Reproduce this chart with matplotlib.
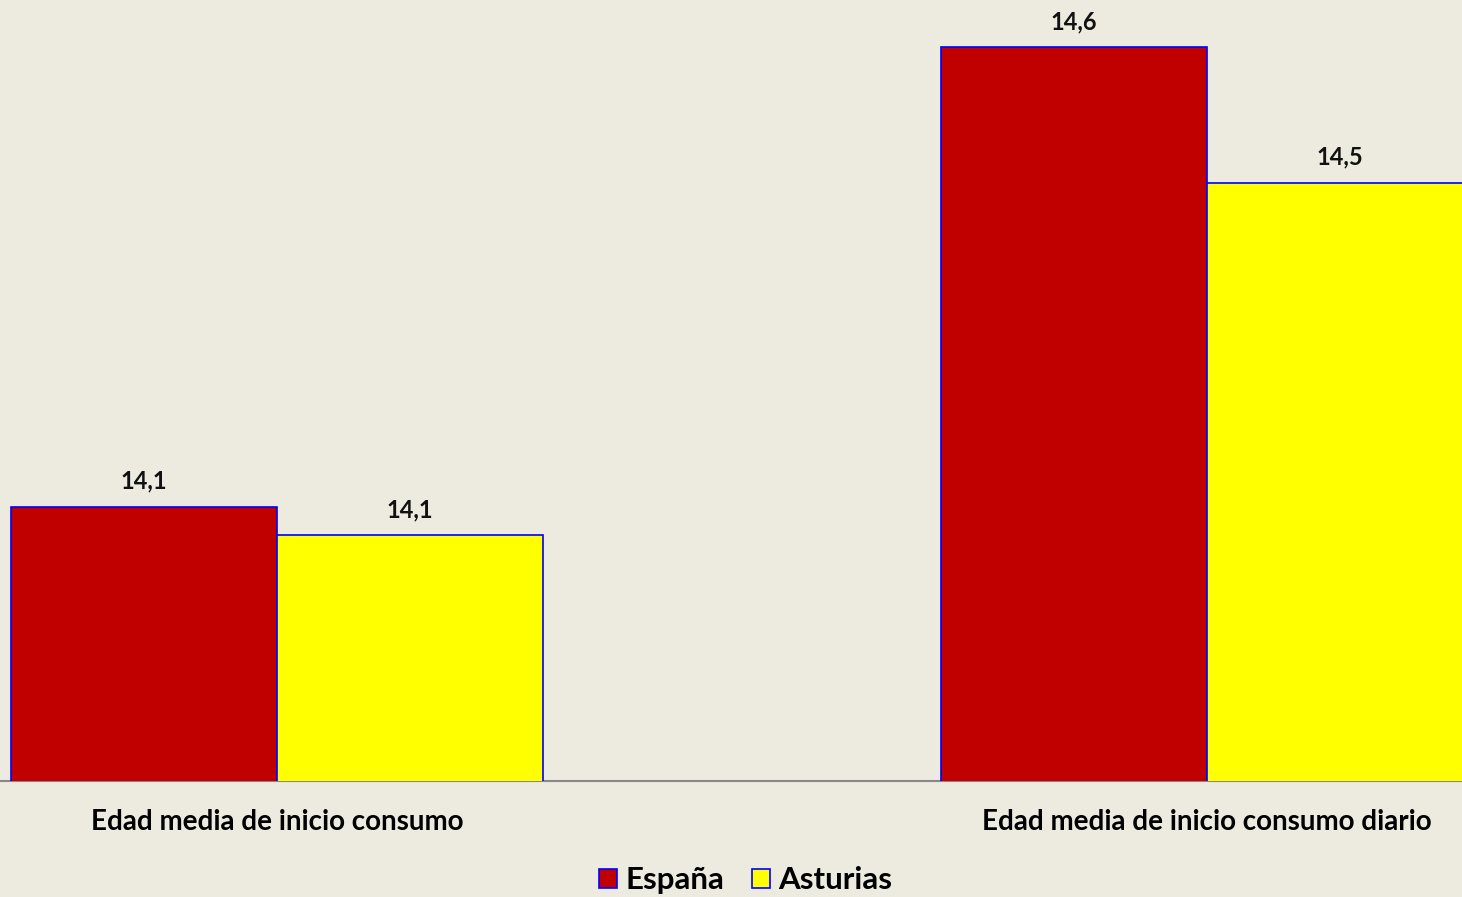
import numpy as np
import matplotlib.pyplot as plt

# Datos
categorias = ['Edad media de inicio consumo', 'Edad media de inicio consumo diario']
espana = [14.099, 14.6]
asturias = [14.068, 14.452]
series = ['España', 'Asturias']

fondo = '#EDEBE0'
colores = ['#C00000', '#FFFF00']

fig = plt.figure(figsize=(14.62, 8.97), dpi=100, facecolor=fondo)
ax = fig.add_axes([0, 116/897, 1, 781/897])
ax.set_facecolor(fondo)

x = np.arange(len(categorias))
ancho = 0.286

b1 = ax.bar(x - ancho/2, espana, ancho, color=colores[0], edgecolor='#0000FF',
            linewidth=1.2, label=series[0], zorder=3)
b2 = ax.bar(x + ancho/2, asturias, ancho, color=colores[1], edgecolor='#0000FF',
            linewidth=1.2, label=series[1], zorder=3)

for barras in (b1, b2):
    for b in barras:
        h = b.get_height()
        ax.text(b.get_x() + b.get_width()/2, h + 0.015, f'{h:.1f}'.replace('.', ','),
                ha='center', va='bottom', fontsize=17, fontweight='bold',
                family='Lato', color='#111111')

ax.set_ylim(13.8, 14.651)
ax.set_xlim(-277/930, (1462 - 277)/930)

ax.set_yticks([])
ax.set_xticks(x)
ax.set_xticklabels(categorias, fontsize=20, fontweight='bold', family='Lato')
ax.tick_params(axis='x', length=0, pad=20)
for s in ['top', 'right', 'left']:
    ax.spines[s].set_visible(False)
ax.spines['bottom'].set_color('#888888')
ax.spines['bottom'].set_linewidth(1.5)

leg = fig.legend(loc='lower center', bbox_to_anchor=(0.51, -0.016), ncol=2,
                 frameon=False, prop={'family': 'Lato', 'weight': 'bold', 'size': 22.5},
                 borderpad=0.05, handlelength=0.57, handleheight=0.57,
                 handletextpad=0.25, columnspacing=0.9)

fig.savefig('out.png', dpi=100, facecolor=fondo)
